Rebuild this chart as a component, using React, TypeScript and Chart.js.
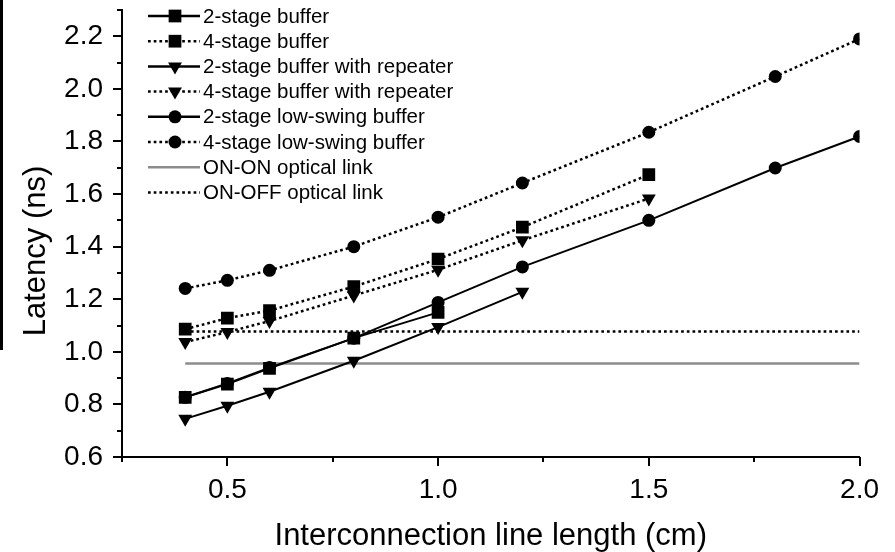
import React, { useEffect, useRef } from 'react';
import { Chart, registerables } from 'chart.js';

Chart.register(...registerables);

const FONT = "'Liberation Sans', Arial, Helvetica, sans-serif";

// ---- data ----
const seriesNames = [
  '2-stage buffer',
  '4-stage buffer',
  '2-stage buffer with repeater',
  '4-stage buffer with repeater',
  '2-stage low-swing buffer',
  '4-stage low-swing buffer',
  'ON-ON optical link',
  'ON-OFF optical link',
];

const twoStageBufferX = [0.4, 0.5, 0.6, 0.8, 1.0];
const twoStageBufferY = [0.827, 0.877, 0.937, 1.052, 1.15];

const fourStageBufferX = [0.4, 0.5, 0.6, 0.8, 1.0, 1.2, 1.5];
const fourStageBufferY = [1.086, 1.128, 1.157, 1.248, 1.353, 1.474, 1.674];

const twoStageRepeaterX = [0.4, 0.5, 0.6, 0.8, 1.0, 1.2];
const twoStageRepeaterY = [0.745, 0.795, 0.848, 0.966, 1.094, 1.228];

const fourStageRepeaterX = [0.4, 0.5, 0.6, 0.8, 1.0, 1.2, 1.5];
const fourStageRepeaterY = [1.037, 1.075, 1.117, 1.214, 1.312, 1.424, 1.583];

const twoStageLowSwingX = [0.4, 0.5, 0.6, 0.8, 1.0, 1.2, 1.5, 1.8, 2.0];
const twoStageLowSwingY = [0.827, 0.88, 0.94, 1.052, 1.188, 1.323, 1.5, 1.699, 1.819];

const fourStageLowSwingX = [0.4, 0.5, 0.6, 0.8, 1.0, 1.2, 1.5, 1.8, 2.0];
const fourStageLowSwingY = [1.241, 1.272, 1.31, 1.4, 1.512, 1.642, 1.835, 2.047, 2.19];

const onOnX = [0.4, 2.0];
const onOnY = [0.956, 0.956];

const onOffX = [0.4, 2.0];
const onOffY = [1.077, 1.077];

// axis ranges / ticks
const xMin = 0.25;
const xMax = 2.0;
const xStep = 0.25;
const xMajorTicks = [0.5, 1.0, 1.5, 2.0];
const xMinorTicks = [0.25, 0.75, 1.25, 1.75];
const yMin = 0.6;
const yMax = 2.3;
const yStep = 0.1;
const yMajorTicks = [0.6, 0.8, 1.0, 1.2, 1.4, 1.6, 1.8, 2.0, 2.2];
const yMinorTicks = [0.7, 0.9, 1.1, 1.3, 1.5, 1.7, 1.9, 2.1, 2.3];

const xTitle = 'Interconnection line length (cm)';
const yTitle = 'Latency (ns)';

const pts = (xs: number[], ys: number[]) => xs.map((x, i) => ({ x, y: ys[i] }));

const inList = (v: number, list: number[]) => list.some((m) => Math.abs(m - v) < 1e-6);

const DOT = [2.7, 3];
const RECT_R = 9;
const CIRCLE_R = 6.5;
const TRI_R = 8;

function drawMarker(ctx: CanvasRenderingContext2D, style: string, x: number, y: number) {
  ctx.fillStyle = '#000';
  ctx.beginPath();
  if (style === 'rect') {
    const s = RECT_R * Math.SQRT1_2;
    ctx.rect(x - s, y - s, 2 * s, 2 * s);
  } else if (style === 'circle') {
    ctx.arc(x, y, CIRCLE_R, 0, Math.PI * 2);
  } else if (style === 'triangle') {
    const r = TRI_R;
    ctx.moveTo(x, y + r);
    ctx.lineTo(x - r * Math.sin(Math.PI / 3), y - r / 2);
    ctx.lineTo(x + r * Math.sin(Math.PI / 3), y - r / 2);
    ctx.closePath();
  }
  ctx.fill();
}

const decorPlugin = {
  id: 'decor',
  afterDraw(chart: any) {
    const ctx: CanvasRenderingContext2D = chart.ctx;
    const xs = chart.scales.x;
    const ys = chart.scales.y;
    const area = chart.chartArea;
    ctx.save();
    ctx.setLineDash([]);
    ctx.globalAlpha = 1;
    // tick marks
    ctx.strokeStyle = '#000';
    ctx.lineWidth = 2;
    ctx.beginPath();
    const addX = (v: number, len: number) => {
      const px = Math.round(xs.getPixelForValue(v));
      ctx.moveTo(px, area.bottom);
      ctx.lineTo(px, area.bottom + len);
    };
    const addY = (v: number, len: number) => {
      const py = Math.round(ys.getPixelForValue(v));
      ctx.moveTo(area.left, py);
      ctx.lineTo(area.left - len, py);
    };
    xMajorTicks.forEach((v) => addX(v, 9));
    xMinorTicks.forEach((v) => addX(v, 5));
    yMajorTicks.forEach((v) => addY(v, 9));
    yMinorTicks.forEach((v) => addY(v, 5));
    ctx.stroke();

    // y title
    ctx.save();
    ctx.translate(36, 251);
    ctx.rotate(-Math.PI / 2);
    ctx.font = `31px ${FONT}`;
    ctx.fillStyle = '#000';
    ctx.textAlign = 'center';
    ctx.textBaseline = 'middle';
    ctx.fillText(yTitle, 0, 0);
    ctx.restore();

    // legend
    const x0 = 148;
    const x1 = 200;
    const xm = 175;
    chart.data.datasets.forEach((ds: any, i: number) => {
      const y = 16 + i * 25.2;
      ctx.save();
      ctx.strokeStyle = ds.borderColor;
      ctx.lineWidth = ds.borderDash && ds.borderDash.length ? ds.borderWidth : 2.5;
      ctx.setLineDash(ds.borderDash || []);
      ctx.beginPath();
      ctx.moveTo(x0, y);
      ctx.lineTo(x1, y);
      ctx.stroke();
      ctx.restore();
      if (ds.pointRadius > 0) drawMarker(ctx, ds.pointStyle, xm, y);
      ctx.font = `20.5px ${FONT}`;
      ctx.fillStyle = '#000';
      ctx.textAlign = 'left';
      ctx.textBaseline = 'middle';
      ctx.fillText(ds.label, 203, y + 1);
    });
    ctx.restore();
  },
};

export default function App() {
  const ref = useRef<HTMLCanvasElement | null>(null);

  useEffect(() => {
    document.body.style.margin = '0';
    if (!ref.current) return;
    Chart.defaults.font.family = FONT;
    Chart.defaults.color = '#000';

    const solid = (label: string, data: any[], style: string, radius: number, rot = 0) => ({
      label,
      data,
      borderColor: '#000',
      backgroundColor: '#000',
      borderWidth: 2,
      borderDash: [] as number[],
      pointStyle: style,
      pointRadius: radius,
      pointRotation: rot,
      pointBackgroundColor: '#000',
      pointBorderColor: '#000',
      pointBorderWidth: 0,
      tension: 0,
    });
    const dotted = (label: string, data: any[], style: string, radius: number, rot = 0) => ({
      ...solid(label, data, style, radius, rot),
      borderWidth: 2.5,
      borderDash: DOT,
    });

    const chart = new Chart(ref.current, {
      type: 'line',
      data: {
        datasets: [
          solid(seriesNames[0], pts(twoStageBufferX, twoStageBufferY), 'rect', RECT_R),
          dotted(seriesNames[1], pts(fourStageBufferX, fourStageBufferY), 'rect', RECT_R),
          solid(seriesNames[2], pts(twoStageRepeaterX, twoStageRepeaterY), 'triangle', TRI_R, 180),
          dotted(seriesNames[3], pts(fourStageRepeaterX, fourStageRepeaterY), 'triangle', TRI_R, 180),
          solid(seriesNames[4], pts(twoStageLowSwingX, twoStageLowSwingY), 'circle', CIRCLE_R),
          dotted(seriesNames[5], pts(fourStageLowSwingX, fourStageLowSwingY), 'circle', CIRCLE_R),
          {
            ...solid(seriesNames[6], pts(onOnX, onOnY), 'circle', 0),
            borderColor: '#8c8c8c',
            backgroundColor: '#8c8c8c',
            borderWidth: 2.5,
          },
          {
            ...dotted(seriesNames[7], pts(onOffX, onOffY), 'circle', 0),
          },
        ] as any,
      },
      options: {
        responsive: false,
        animation: false,
        layout: { padding: { left: 0, top: 10, right: 35, bottom: 0 } },
        plugins: {
          legend: { display: false },
          tooltip: { enabled: false },
        },
        scales: {
          x: {
            type: 'linear',
            min: xMin,
            max: xMax,
            grid: { display: false, drawTicks: false },
            border: { display: true, color: '#000', width: 2 },
            ticks: {
              stepSize: xStep,
              autoSkip: false,
              maxRotation: 0,
              padding: 16,
              font: { size: 28, family: FONT },
              color: '#000',
              callback: (v: any) => (inList(Number(v), xMajorTicks) ? Number(v).toFixed(1) : null),
            },
            title: {
              display: true,
              text: xTitle,
              font: { size: 31, family: FONT, lineHeight: 1 },
              color: '#000',
              padding: { top: 0, bottom: 0 },
            },
            afterFit: (s: any) => {
              s.height = 95;
            },
          },
          y: {
            type: 'linear',
            min: yMin,
            max: yMax,
            grid: { display: false, drawTicks: false },
            border: { display: true, color: '#000', width: 2 },
            ticks: {
              stepSize: yStep,
              autoSkip: false,
              padding: 19,
              font: { size: 28, family: FONT },
              color: '#000',
              callback: (v: any) => (inList(Number(v), yMajorTicks) ? Number(v).toFixed(1) : null),
            },
            afterFit: (s: any) => {
              s.width = 122;
              s.paddingTop = 0;
              s.paddingBottom = 0;
            },
          },
        },
      },
      plugins: [decorPlugin],
    });
    return () => chart.destroy();
  }, []);

  return (
    <div style={{ position: 'fixed', left: 0, top: 0, width: 895, height: 552, background: '#fff' }}>
      <canvas ref={ref} width={895} height={552} style={{ width: 895, height: 552, display: 'block' }} />
      <div style={{ position: 'absolute', left: 0, top: 0, width: 3, height: 350, background: '#000' }} />
    </div>
  );
}
